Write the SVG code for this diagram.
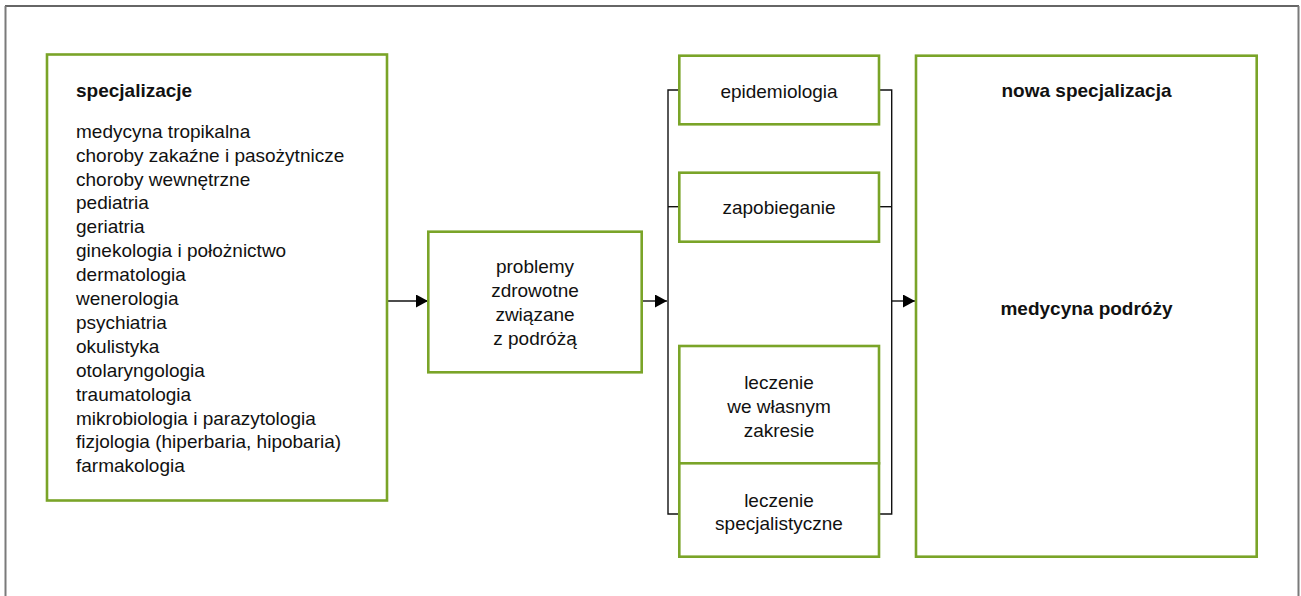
<svg xmlns="http://www.w3.org/2000/svg" width="1301" height="596" viewBox="0 0 1301 596">
<style>
.box{fill:#fff;stroke:#7aa428;stroke-width:2.6}
.t{font-family:"Liberation Sans",Arial,sans-serif;font-size:19px;fill:#111}
.b{font-weight:bold}
.c{text-anchor:middle}
.con{fill:none;stroke:#111;stroke-width:1.4}
</style>
<defs>
<marker id="ah" markerUnits="userSpaceOnUse" markerWidth="12" markerHeight="13" refX="12" refY="6.5" orient="auto">
<path d="M0,0 L12,6.5 L0,13 Z" fill="#000"/>
</marker>
</defs>
<rect width="1301" height="596" fill="#fff"/>
<g id="frame">
<line x1="5" y1="6" x2="1299" y2="6" stroke="#333" stroke-width="1.5"/>
<line x1="5.5" y1="6" x2="5.5" y2="596" stroke="#7a7a7a" stroke-width="2"/>
<line x1="1298.5" y1="6" x2="1298.5" y2="596" stroke="#7a7a7a" stroke-width="2"/>
</g>
<g id="connectors">
<line class="con" x1="388" y1="301" x2="428" y2="301" marker-end="url(#ah)"/>
<line class="con" x1="642" y1="301" x2="667" y2="301" marker-end="url(#ah)"/>
<line class="con" x1="892" y1="301" x2="915" y2="301" marker-end="url(#ah)"/>
<polyline class="con" points="679,90 668,90 668,514 679,514"/>
<line class="con" x1="668" y1="206.7" x2="679" y2="206.7"/>
<polyline class="con" points="879,90 891.7,90 891.7,514 879,514"/>
<line class="con" x1="879" y1="206.7" x2="891.7" y2="206.7"/>
</g>
<g id="specjalizacje">
<rect class="box" x="47" y="54.5" width="340" height="446"/>
<text class="t b" x="76" y="97" font-size="18.6">specjalizacje</text>
<text class="t" x="76" y="137.7">medycyna tropikalna</text>
<text class="t" x="76" y="161.6">choroby zakaźne i pasożytnicze</text>
<text class="t" x="76" y="185.5">choroby wewnętrzne</text>
<text class="t" x="76" y="209.4">pediatria</text>
<text class="t" x="76" y="233.3">geriatria</text>
<text class="t" x="76" y="257.2">ginekologia i położnictwo</text>
<text class="t" x="76" y="281.1">dermatologia</text>
<text class="t" x="76" y="305">wenerologia</text>
<text class="t" x="76" y="328.9">psychiatria</text>
<text class="t" x="76" y="352.8">okulistyka</text>
<text class="t" x="76" y="376.7">otolaryngologia</text>
<text class="t" x="76" y="400.6">traumatologia</text>
<text class="t" x="76" y="424.5">mikrobiologia i parazytologia</text>
<text class="t" x="76" y="448.4">fizjologia (hiperbaria, hipobaria)</text>
<text class="t" x="76" y="472.3">farmakologia</text>
</g>
<g id="problemy">
<rect class="box" x="428.3" y="231.7" width="213.4" height="140.6"/>
<text class="t c" x="535" y="273.3">problemy</text>
<text class="t c" x="535" y="297">zdrowotne</text>
<text class="t c" x="535" y="321">związane</text>
<text class="t c" x="535" y="345">z podróżą</text>
</g>
<g id="epidemiologia">
<rect class="box" x="679.3" y="55.7" width="199.7" height="68.6"/>
<text class="t c" x="779" y="97.7">epidemiologia</text>
</g>
<g id="zapobieganie">
<rect class="box" x="679.3" y="172.7" width="199.7" height="69"/>
<text class="t c" x="779" y="214">zapobieganie</text>
</g>
<g id="leczenie-wlasne">
<rect class="box" x="679.3" y="346" width="199.7" height="117.3"/>
<text class="t c" x="779" y="389">leczenie</text>
<text class="t c" x="779" y="412.7">we własnym</text>
<text class="t c" x="779" y="436.7">zakresie</text>
</g>
<g id="leczenie-specjalistyczne">
<rect class="box" x="679.3" y="463.3" width="199.7" height="93.4"/>
<text class="t c" x="779" y="506.7">leczenie</text>
<text class="t c" x="779" y="530">specjalistyczne</text>
</g>
<g id="nowa-specjalizacja">
<rect class="box" x="916" y="55.7" width="340.7" height="501"/>
<text class="t b c" x="1086.5" y="97.3">nowa specjalizacja</text>
<text class="t b c" x="1086.5" y="315" font-size="20.3">medycyna podróży</text>
</g>
</svg>
